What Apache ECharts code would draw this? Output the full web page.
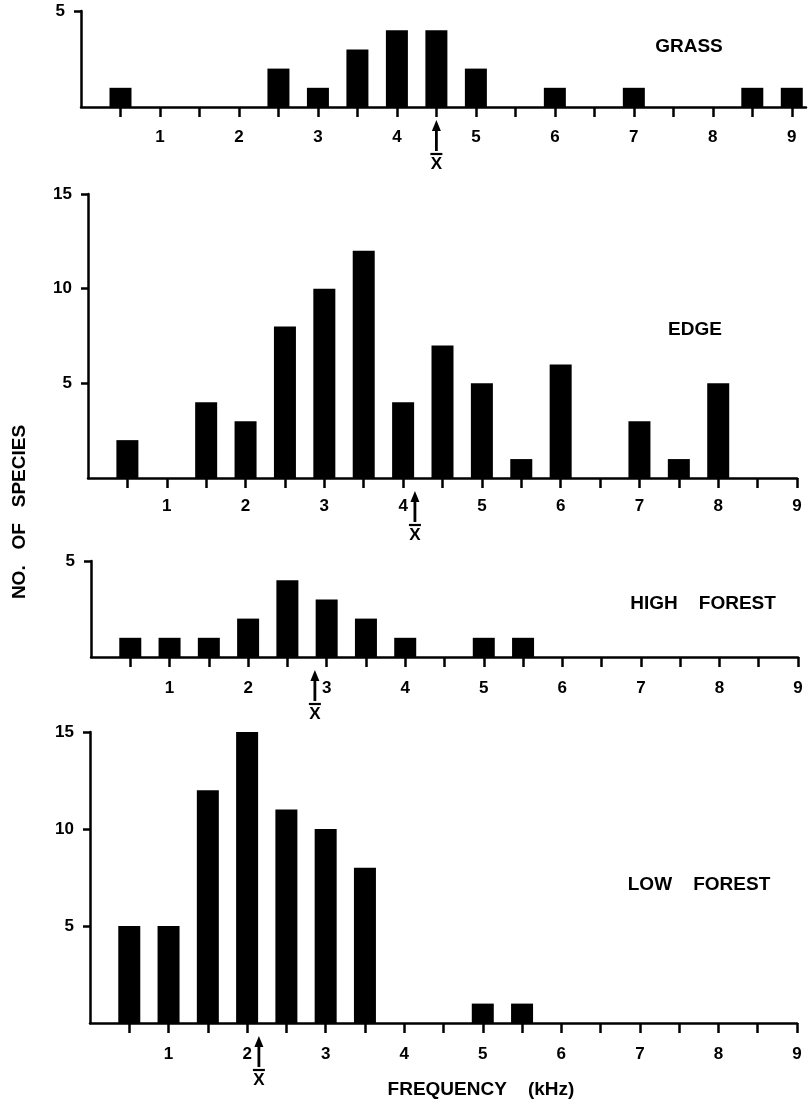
<!DOCTYPE html>
<html>
<head>
<meta charset="utf-8">
<title>Song frequency by habitat</title>
<script src="https://cdn.jsdelivr.net/npm/echarts@6/dist/echarts.min.js"></script>
<style>
  html, body { margin: 0; padding: 0; background: #fff; }
  #species-chart { width: 808px; height: 1100px; }
</style>
</head>
<body>
<div id="species-chart"></div>
<script>
  // frequency classes (kHz), one bar per class
  const freqBins = [0.5, 1, 1.5, 2, 2.5, 3, 3.5, 4, 4.5, 5, 5.5, 6, 6.5, 7, 7.5, 8, 8.5, 9];
  const xTickLabels = [1, 2, 3, 4, 5, 6, 7, 8, 9];

  const habitats = ['GRASS', 'EDGE', 'HIGH    FOREST', 'LOW    FOREST'];
  const grassCounts = [1, 0, 0, 0, 2, 1, 3, 4, 4, 2, 0, 1, 0, 1, 0, 0, 1, 1];
  const edgeCounts = [2, 0, 4, 3, 8, 10, 12, 4, 7, 5, 1, 6, 0, 3, 1, 5, 0, 0];
  const highForestCounts = [1, 1, 1, 2, 4, 3, 2, 1, 0, 1, 1, 0, 0, 0, 0, 0, 0, 0];
  const lowForestCounts = [5, 5, 12, 15, 11, 10, 8, 0, 0, 1, 1, 0, 0, 0, 0, 0, 0, 0];

  // mean frequency (x bar) of each habitat
  const meanFreq = [4.5, 4.15, 2.85, 2.15];

  const yMax = [5, 15, 5, 15];
  const yTickLabels = [[5], [5, 10, 15], [5], [5, 10, 15]];
  const xMax = [9.18, 9, 9, 9];

  const allCounts = [grassCounts, edgeCounts, highForestCounts, lowForestCounts];

  const FONT = '"Liberation Sans", Arial, sans-serif';

  // panel placement, px
  const grids = [
    { left: 81, top: 11, width: 725, height: 96 },
    { left: 88, top: 194, width: 709, height: 284 },
    { left: 91, top: 561, width: 707, height: 96 },
    { left: 90, top: 732, width: 707, height: 291 }
  ];
  const labelMargins = [22, 20, 23, 23];
  const titlePos = [[689, 47], [695, 330], [703, 604], [699, 885]];

  const myChart = echarts.init(document.getElementById('species-chart'), null, { renderer: 'canvas' });

  const option = {
    backgroundColor: '#fff',
    animation: false,
    grid: grids.map(g => Object.assign({ outerBoundsMode: 'none', containLabel: false }, g)),
    xAxis: [],
    yAxis: [],
    series: [],
    graphic: []
  };

  allCounts.forEach((counts, i) => {
    option.xAxis.push({
      type: 'value',
      gridIndex: i,
      min: 0,
      max: xMax[i],
      axisLine: { show: true, onZero: false, lineStyle: { color: '#000', width: 2.5 } },
      axisTick: {
        show: true,
        customValues: freqBins,
        length: 10,
        lineStyle: { color: '#000', width: 2.5 }
      },
      axisLabel: {
        show: true,
        customValues: xTickLabels,
        margin: labelMargins[i],
        color: '#000',
        fontSize: 17,
        fontWeight: 'bold',
        fontFamily: FONT
      },
      splitLine: { show: false }
    });
    option.yAxis.push({
      type: 'value',
      gridIndex: i,
      min: 0,
      max: yMax[i],
      axisLine: { show: true, lineStyle: { color: '#000', width: 2.5 } },
      axisTick: {
        show: true,
        customValues: yTickLabels[i],
        length: 7,
        lineStyle: { color: '#000', width: 2.5 }
      },
      axisLabel: {
        show: true,
        customValues: yTickLabels[i],
        margin: 16,
        color: '#000',
        fontSize: 17,
        fontWeight: 'bold',
        fontFamily: FONT
      },
      splitLine: { show: false }
    });

    option.series.push({
      name: habitats[i],
      type: 'bar',
      xAxisIndex: i,
      yAxisIndex: i,
      barWidth: 22,
      clip: false,
      itemStyle: { color: '#000' },
      data: freqBins.map((f, k) => [f, counts[k]])
    });

    // arrow + x bar under the axis at the mean
    option.series.push({
      type: 'custom',
      xAxisIndex: i,
      yAxisIndex: i,
      clip: false,
      z: 5,
      data: [[meanFreq[i], 0]],
      renderItem: function (params, api) {
        const p = api.coord([api.value(0), 0]);
        const x = p[0], y = p[1];
        return {
          type: 'group',
          children: [
            { type: 'polygon', shape: { points: [[x, y + 13], [x - 4.5, y + 24], [x + 4.5, y + 24]] }, style: { fill: '#000' } },
            { type: 'line', shape: { x1: x, y1: y + 22, x2: x, y2: y + 44 }, style: { stroke: '#000', lineWidth: 2.8 } },
            { type: 'line', shape: { x1: x - 6, y1: y + 47, x2: x + 6, y2: y + 47 }, style: { stroke: '#000', lineWidth: 2.2 } },
            {
              type: 'text',
              style: { text: 'X', x: x, y: y + 49, align: 'center', verticalAlign: 'top', font: 'bold 17px ' + FONT, fill: '#000' }
            }
          ]
        };
      }
    });

    option.graphic.push({
      type: 'text',
      x: titlePos[i][0],
      y: titlePos[i][1],
      style: { text: habitats[i], align: 'center', verticalAlign: 'middle', font: 'bold 19px ' + FONT, fill: '#000' }
    });
  });

  option.graphic.push({
    type: 'text',
    x: 20,
    y: 512,
    rotation: Math.PI / 2,
    style: { text: 'NO.   OF   SPECIES', align: 'center', verticalAlign: 'middle', font: 'bold 19px ' + FONT, fill: '#000' }
  });
  option.graphic.push({
    type: 'text',
    x: 481,
    y: 1090,
    style: { text: 'FREQUENCY    (kHz)', align: 'center', verticalAlign: 'middle', font: 'bold 19px ' + FONT, fill: '#000' }
  });

  myChart.setOption(option, true);
</script>
</body>
</html>
